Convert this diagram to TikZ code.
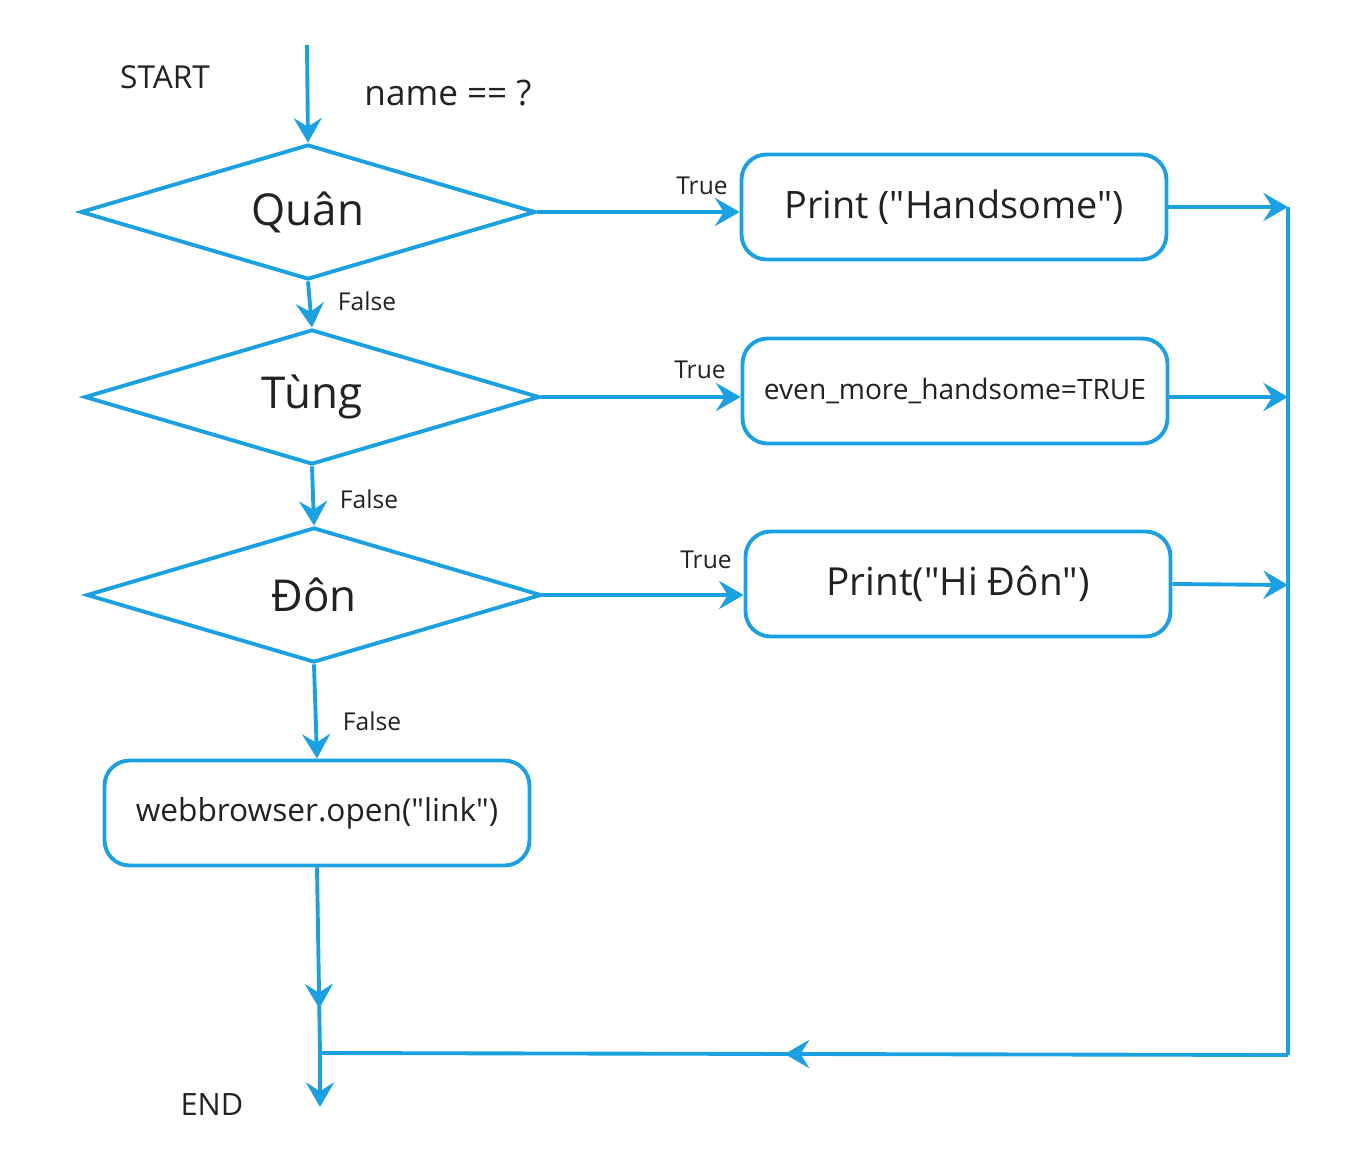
\documentclass[tikz,border=0pt]{standalone}
\usepackage{fontspec}
\setmainfont{Open Sans}[Ligatures=TeXOff]
\usetikzlibrary{shapes.geometric,arrows.meta,decorations.markings}
\definecolor{flow}{RGB}{27,161,226}
\definecolor{ink}{RGB}{34,34,34}

\begin{document}
\begin{tikzpicture}[x=0.02cm,y=-0.02cm,line width=2.2pt,draw=flow,
    >={Stealth[length=14pt,width=16pt,inset=5pt]},
    decision/.style={draw=flow,diamond,aspect=3.4,minimum width=9.1cm,minimum height=2.7cm,inner sep=0pt,text=ink,font=\fontsize{25}{30}\selectfont},
    action/.style={draw=flow,rectangle,rounded corners=0.5cm,minimum width=8.5cm,minimum height=2.1cm,text=ink,font=\fontsize{21.5}{26}\selectfont},
    tag/.style={text=ink,inner sep=0pt,font=\fontsize{14}{17}\selectfont},
    midarrow/.style={postaction={decorate},decoration={markings,mark=at position #1 with {\arrow{>}}}}]

\useasboundingbox (0,0) rectangle (1350,1157);

\node[decision] (quan) at (308,212) {Quân};
\node[decision] (tung) at (312,397) {Tùng};
\node[decision] (don) at (314,595) {Đôn};

\node[action] (hand) at (954,207) {Print ("Handsome")};
\node[action,font=\fontsize{16}{19}\selectfont] (more) at (955,391) {even\_more\_handsome=TRUE};
\node[action,font=\fontsize{22}{26}\selectfont] (hi) at (958,584) {Print("Hi Đôn")};
\node[action,font=\fontsize{18}{22}\selectfont] (web) at (317,813) {webbrowser.open("link")};

\node[tag,font=\fontsize{18}{21}\selectfont] (start) at (165,77) {START};
\node[tag,font=\fontsize{20}{24}\selectfont] (ask) at (448,93) {name == ?};
\node[tag,font=\fontsize{17.5}{21}\selectfont] (stop) at (212,1105) {END};

\foreach \t/\x/\y in {True/702/186,True/700/370,True/706/560,False/367/301,False/369/499,False/372/721}{
    \node[tag] at (\x,\y){\t};
}

\coordinate (begin) at (307,45);
\coordinate (end) at (320,1107);
\coordinate (merge) at (320,1053);
\coordinate (corner) at (1288,1055);
\coordinate (j1) at (1288,207);
\coordinate (j2) at (1288,397);
\coordinate (j3) at (1288,585);

%down the decisions
\draw[->] (begin) -- (quan.north);
\draw[->] (quan.south) -- (tung.north);
\draw[->] (tung.south) -- (don.north);
\draw[->] (don.south) -- (web.north);

%true branches
\draw[->] (quan.east) -- (quan.east -| hand.west);
\draw[->] (tung.east) -- (tung.east -| more.west);
\draw[->] (don.east) -- (don.east -| hi.west);
\draw[->] (hand.east) -- (j1);
\draw[->] (more.east |- j2) -- (j2);
\draw[->] (hi.east) -- (j3);

%back to the end
\draw (j1) -- (corner);
\draw[midarrow=0.52] (corner) -- (merge);
\draw[midarrow=0.76] (web.south) -- (merge);
\draw[->] (merge) -- (end);

\end{tikzpicture}
\end{document}
